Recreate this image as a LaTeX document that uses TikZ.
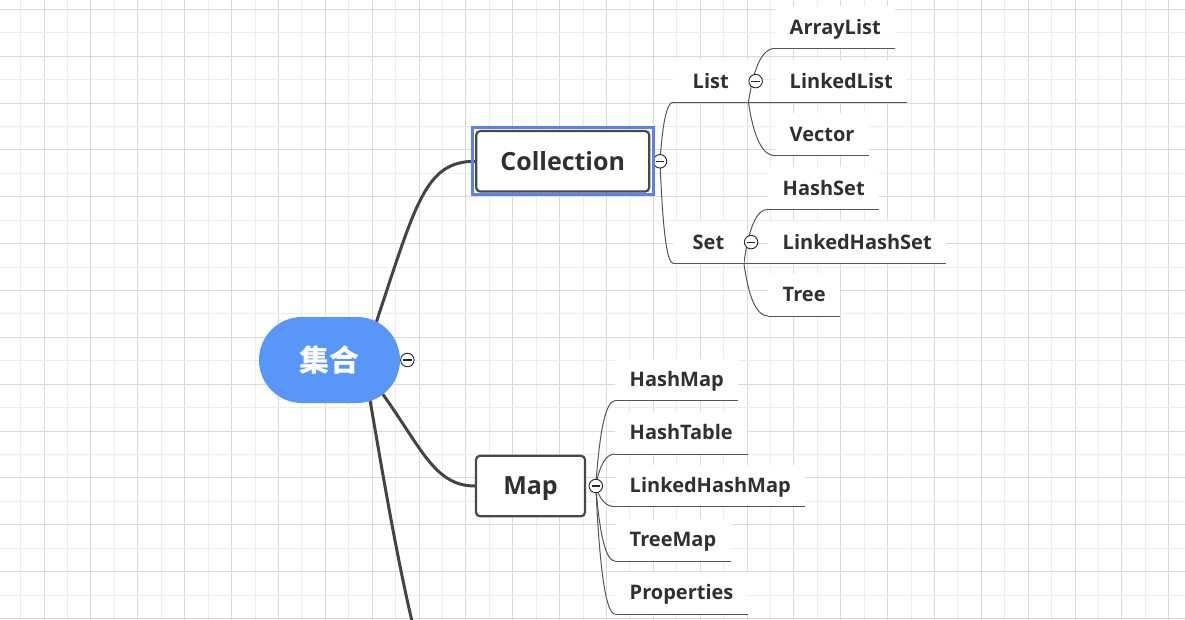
\documentclass[tikz,border=0pt]{standalone}
\usepackage{fontspec}
\newfontfamily\latfont{Open Sans}
\newfontfamily\cjkfont{Noto Sans CJK SC}
\usetikzlibrary{calc,positioning}
\pgfdeclarelayer{grid}
\pgfdeclarelayer{edges}
\pgfsetlayers{grid,edges,main}
\definecolor{gridlight}{RGB}{236,236,236}
\definecolor{griddark}{RGB}{218,218,218}
\definecolor{txt}{RGB}{48,48,48}
\definecolor{rootblue}{RGB}{88,150,248}
\definecolor{selblue}{RGB}{92,128,240}
\definecolor{branchc}{RGB}{68,68,68}
\definecolor{twigc}{RGB}{85,85,85}
\definecolor{boxc}{RGB}{72,72,72}
\tikzset{
  leaf/.style={anchor=south west, fill=white, inner xsep=14.5, inner ysep=0, minimum height=42,
    text height=14.3, text depth=0, text=txt, font=\latfont\bfseries\fontsize{20}{24}\selectfont},
  mid/.style={leaf, inner xsep=19.5},
  topicbox/.style={draw=boxc, line width=2.2, fill=white, rounded corners=4, text=txt,
    font=\latfont\bfseries\fontsize{25}{30}\selectfont, text height=17.9, text depth=0,
    minimum height=60.5, inner sep=0},
  rootnode/.style={fill=rootblue, rounded corners=43, minimum width=141, minimum height=86,
    text=white, font=\cjkfont\bfseries\fontsize{30}{36}\selectfont, text height=24, text depth=1.2, inner sep=0},
  collapse/.style={circle, draw=black!85, line width=0.9, fill=white, minimum size=13.5, inner sep=0,
    path picture={\draw[line width=1.1] ([xshift=-4.2]path picture bounding box.center) -- ([xshift=4.2]path picture bounding box.center);}},
  branch/.style={draw=branchc, line width=3, line cap=round},
  twig/.style={draw=twigc, line width=1,
    to path={let \p1=(\tikztostart), \p2=(\tikztotarget) in
      .. controls ({\x1+0.2*(\x2-\x1)},{\y1+0.667*(\y2-\y1)}) and ({\x1+0.533*(\x2-\x1)},\y2) .. (\tikztotarget)}},
  uline/.style={draw=twigc, line width=1},
  selrect/.style={draw=selblue, line width=3},
}
\begin{document}
\begin{tikzpicture}[x=1pt, y=-1pt]
\useasboundingbox (0,0) rectangle (1185,620);
\begin{pgfonlayer}{grid}
  \fill[white] (0,0) rectangle (1185,620);
  \foreach \i in {0,...,49}{
    \pgfmathsetmacro\gx{20.7+23.43*\i}
    \ifodd\i \draw[griddark, line width=1] (\gx,0) -- (\gx,620);
    \else \draw[gridlight, line width=1] (\gx,0) -- (\gx,620); \fi
  }
  \foreach \j in {0,...,26}{
    \pgfmathsetmacro\gy{9.3+23.43*\j}
    \ifodd\j \draw[gridlight, line width=1] (0,\gy) -- (1185,\gy);
    \else \draw[griddark, line width=1] (0,\gy) -- (1185,\gy); \fi
  }
\end{pgfonlayer}

% main topics
\node[rootnode] (root) at (329.5,360) {集合};
\node[collapse, right=0pt of root] (rc) {};
\node[topicbox, minimum width=173] (coll) at (562.7,161.3) {Collection};
\node[collapse, right=2.5pt of coll] (cc) {};
\node[topicbox, minimum width=109] (map) at (530.5,486) {Map};
\node[collapse, right=2.5pt of map] (mc) {};
\draw[selrect] ($(coll.south west)+(-2.8,2.2)$) rectangle ($(coll.north east)+(2.8,-2.8)$);

% second level
\node[mid] (list) at (673,102.3) {List};
\node[collapse, right=0pt of list] (lc) {};
\node[mid] (set) at (673,263.3) {Set};
\node[collapse, right=0pt of set] (sc) {};

% leaves
\node[leaf] (al) at (775,48.3) {ArrayList};
\node[leaf] (ll) at (775,102.3) {LinkedList};
\node[leaf] (ve) at (775,155.7) {Vector};
\node[leaf] (hs) at (768,209.3) {HashSet};
\node[leaf] (lhs) at (768,263.3) {LinkedHashSet};
\node[leaf] (tr) at (768,316) {Tree};
\node[leaf] (hm) at (615,400.7) {HashMap};
\node[leaf] (ht) at (615,454) {HashTable};
\node[leaf] (lhm) at (615,506.7) {LinkedHashMap};
\node[leaf] (tm) at (615,561) {TreeMap};
\node[leaf] (pr) at (615,614) {Properties};
\foreach \n in {list,set,al,ll,ve,hs,lhs,tr,hm,ht,lhm,tm,pr}
  \draw[uline] (\n.south west) -- (\n.south east);

\coordinate (hidden) at (476,760);
\begin{pgfonlayer}{edges}
  \begin{scope}
  \clip (0,0) rectangle (1185,620);
  \draw[branch] ($(root.center)+(46.5,-37)$) .. controls +(40,-120) and +(-50,0) .. (coll.west);
  \draw[branch] ($(root.center)+(52.5,33)$) .. controls +(40,56) and +(-40,0) .. (map.west);
  \draw[branch] ($(root.center)+(40.5,40)$) .. controls +(25,145) and +(-46,0) .. (hidden);
  \draw[twig] (cc.center) to (list.south west);
  \draw[twig] (cc.center) to (set.south west);
  \draw[twig] (list.south east) to (al.south west);
  \draw[twig] (list.south east) to (ll.south west);
  \draw[twig] (list.south east) to (ve.south west);
  \draw[twig] (set.south east) to (hs.south west);
  \draw[twig] (set.south east) to (lhs.south west);
  \draw[twig] (set.south east) to (tr.south west);
  \draw[twig] (mc.center) to (hm.south west);
  \draw[twig] (mc.center) to (ht.south west);
  \draw[twig] (mc.center) to (lhm.south west);
  \draw[twig] (mc.center) to (tm.south west);
  \draw[twig] (mc.center) to (pr.south west);
  \end{scope}
\end{pgfonlayer}
\end{tikzpicture}
\end{document}
